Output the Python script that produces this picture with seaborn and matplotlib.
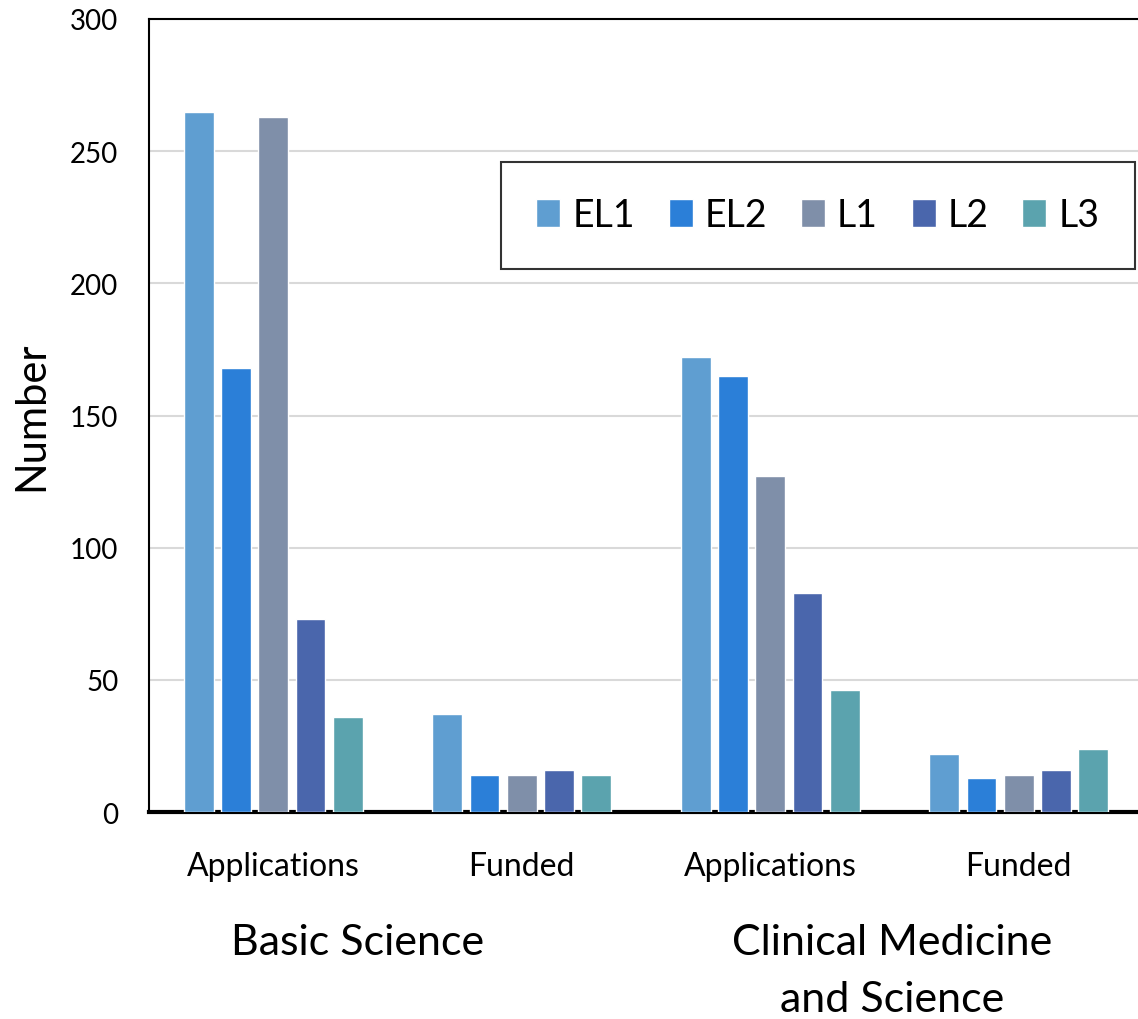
import pandas as pd
import seaborn as sns
import matplotlib.pyplot as plt
from matplotlib.transforms import blended_transform_factory

categories = ['Basic Applications', 'Basic Funded', 'Clinical Applications', 'Clinical Funded']
tick_labels = ['Applications', 'Funded', 'Applications', 'Funded']
levels = ['EL1', 'EL2', 'L1', 'L2', 'L3']
el1 = [265, 37, 172, 22]
el2 = [168, 14, 165, 13]
l1 = [263, 14, 127, 14]
l2 = [73, 16, 83, 16]
l3 = [36, 14, 46, 24]
colors = ['#5F9ED1', '#2B7FD8', '#7F8FA9', '#4A66AC', '#5BA3AE']

rows = []
for lvl, vals in zip(levels, [el1, el2, l1, l2, l3]):
    for cat, v in zip(categories, vals):
        rows.append({'category': cat, 'level': lvl, 'value': v})
df = pd.DataFrame(rows)

sns.set_style('white')
plt.rcParams['font.family'] = ['Lato', 'DejaVu Sans']
plt.rcParams['text.color'] = 'black'
plt.rcParams['xtick.color'] = 'black'
plt.rcParams['ytick.color'] = 'black'
plt.rcParams['axes.labelcolor'] = 'black'

fig = plt.figure(figsize=(11.38, 10.2), dpi=100)
ax = fig.add_axes([149 / 1138, 1 - 813 / 1020, 1 - 149 / 1138, 793 / 1020])

sns.barplot(data=df, x='category', y='value', hue='level', order=categories,
            hue_order=levels, palette=colors, width=0.75, gap=0.2,
            saturation=1, ax=ax, zorder=3)

ax.set_ylim(0, 300)
ax.set_xlim(-0.5, 3.48)
ax.set_yticks(range(0, 301, 50))
ax.yaxis.grid(True, color='#d9d9d9', linewidth=1.5, zorder=0)
ax.set_axisbelow(True)
ax.set_xticks(range(4))
ax.set_xticklabels(tick_labels)
ax.tick_params(axis='x', labelsize=23, pad=28, length=0)
ax.tick_params(axis='y', labelsize=20, pad=22, length=0)
ax.set_xlabel('')
ax.set_ylabel('Number', fontsize=30, labelpad=14)

for s in ['left', 'top']:
    ax.spines[s].set_color('black')
    ax.spines[s].set_linewidth(1.5)
ax.spines['bottom'].set_color('black')
ax.spines['bottom'].set_linewidth(3)
ax.spines['right'].set_visible(False)

trans = blended_transform_factory(ax.transData, fig.transFigure)
fig.text(0.34, 1 - 943 / 1020, 'Basic Science', fontsize=31, ha='center', va='center', transform=trans)
fig.text(2.49, 1 - 943 / 1020, 'Clinical Medicine', fontsize=31, ha='center', va='center', transform=trans)
fig.text(2.49, 1 - 1000 / 1020, 'and Science', fontsize=31, ha='center', va='center', transform=trans)

leg = ax.legend(loc='upper right', bbox_to_anchor=(0.997, 0.82), ncol=5, fontsize=27,
                frameon=True, fancybox=False, edgecolor='black', handlelength=0.64,
                handleheight=0.77, columnspacing=0.9, handletextpad=0.32,
                borderpad=0.95, borderaxespad=0)
leg.get_frame().set_linewidth(1.5)

fig.savefig('out.png', dpi=100)
